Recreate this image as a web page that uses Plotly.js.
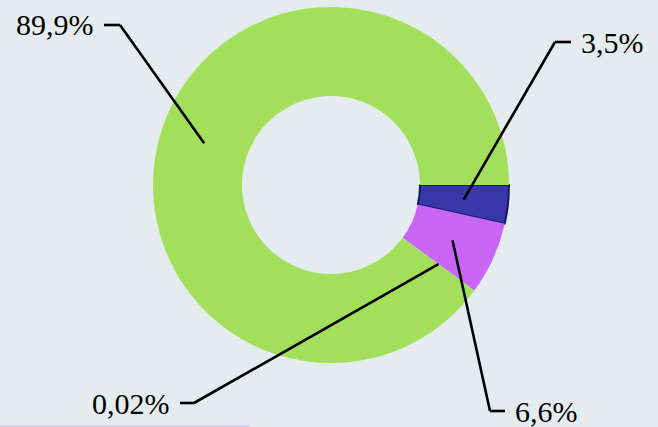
<!DOCTYPE html>
<html>
<head>
<meta charset="utf-8">
<script src="https://cdn.plot.ly/plotly-3.0.1.min.js"></script>
<style>html,body{margin:0;padding:0;background:#e5ecef;}#chart{width:658px;height:427px;}</style>
</head>
<body>
<div id="chart"></div>
<script>
// Data
var categories = ["A", "B", "C", "D"];
var values = [3.5, 6.6, 0.02, 89.9];
var colors = ["#3838aa", "#c966f8", "#a2df5a", "#a2df5a"];

// Layout helpers (pixel geometry of the figure)
var W = 658, H = 427;
var cx = 331, cy = 185, rOut = 178, hole = 0.5;
var rMid = rOut * (1 + hole) / 2;
// elbow point, stub end, and label side for each slice (layout only)
var labelLayout = [
  {elbow: [555, 42], stub: [571, 42], side: "left"},
  {elbow: [490, 411], stub: [505, 411], side: "left"},
  {elbow: [194, 403], stub: [180, 403], side: "right"},
  {elbow: [120, 25], stub: [104, 25], side: "right"}
];

function px(x) { return x / W; }
function py(y) { return 1 - y / H; }
function fmt(v) { return String(v).replace('.', ',') + '%'; }

var total = values.reduce(function (a, b) { return a + b; }, 0);
var shapes = [], annotations = [];
var cum = 0;
values.forEach(function (v, i) {
  var mid = (cum + v / 2) / total * 2 * Math.PI; // clockwise from 3 o'clock
  cum += v;
  var ax = cx + rMid * Math.cos(mid);
  var ay = cy + rMid * Math.sin(mid);
  var L = labelLayout[i];
  shapes.push({type: "line", xref: "paper", yref: "paper",
    x0: px(ax), y0: py(ay), x1: px(L.elbow[0]), y1: py(L.elbow[1]),
    line: {color: "#000", width: 2.6}});
  shapes.push({type: "line", xref: "paper", yref: "paper",
    x0: px(L.elbow[0]), y0: py(L.elbow[1]), x1: px(L.stub[0]), y1: py(L.stub[1]),
    line: {color: "#000", width: 2.6}});
  var tx = L.side === "left" ? L.stub[0] + 8 : L.stub[0] - 8;
  annotations.push({xref: "paper", yref: "paper", x: px(tx), y: py(L.stub[1]),
    text: fmt(v), showarrow: false, xanchor: L.side, yanchor: "middle",
    font: {family: "Liberation Serif", size: 30, color: "#000"}});
});

// faint line at bottom edge
shapes.push({type: "line", xref: "paper", yref: "paper", x0: 0, x1: px(250), y0: py(426), y1: py(426),
  line: {color: "#d6d0ec", width: 2}});

var trace = {
  type: "pie",
  labels: categories,
  values: values,
  sort: false,
  direction: "clockwise",
  rotation: 90,
  hole: hole,
  textinfo: "none",
  hoverinfo: "none",
  marker: {colors: colors, line: {color: ["#1a1a60", "#c966f8", "#a2df5a", "#a2df5a"], width: [2, 0, 0, 0]}},
  domain: {x: [px(cx - rOut), px(cx + rOut)], y: [py(cy + rOut), py(cy - rOut)]}
};

var layout = {
  width: W, height: H,
  margin: {l: 0, r: 0, t: 0, b: 0},
  paper_bgcolor: "#e5ecef",
  plot_bgcolor: "#e5ecef",
  showlegend: false,
  shapes: shapes,
  annotations: annotations
};

Plotly.newPlot("chart", [trace], layout, {displayModeBar: false, staticPlot: true});
</script>
</body>
</html>
